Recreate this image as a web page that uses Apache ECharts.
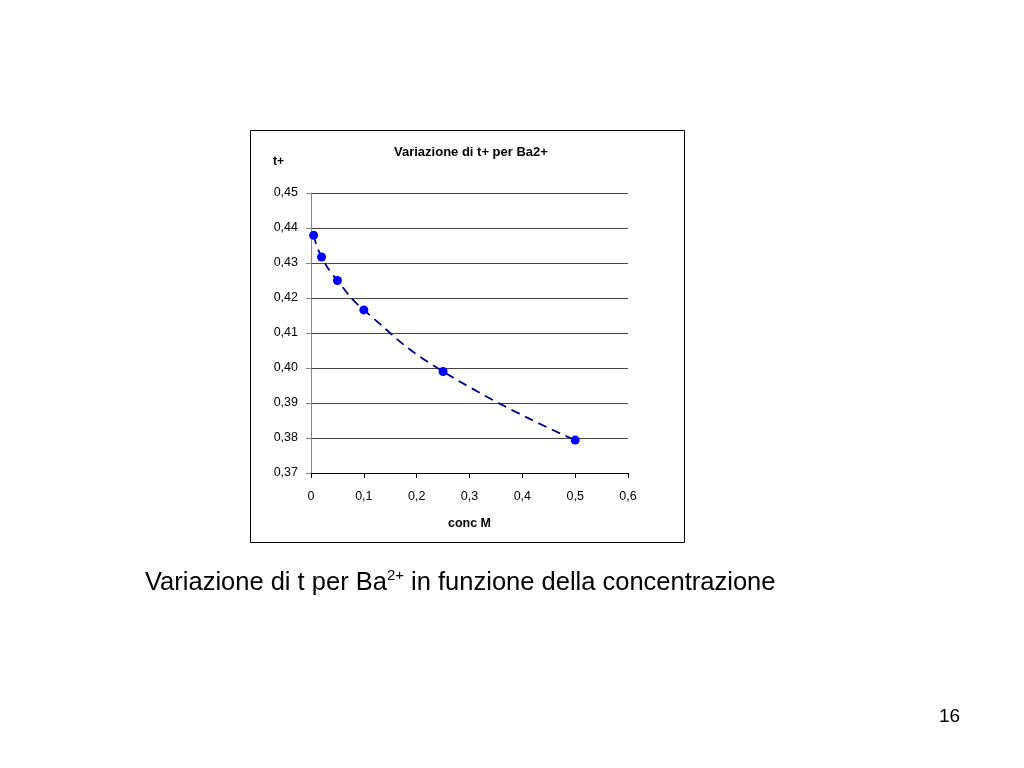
<!DOCTYPE html>
<html>
<head>
<meta charset="utf-8">
<script src="https://cdn.jsdelivr.net/npm/echarts@6/dist/echarts.min.js"></script>
<style>
html,body{margin:0;padding:0;background:#fff;}
#chart{width:1024px;height:768px;}
</style>
</head>
<body>
<div id="chart"></div>
<script>
// Data
const concM = [0.005, 0.02, 0.05, 0.1, 0.25, 0.5];
const tPlus = [0.4379, 0.4317, 0.4250, 0.4166, 0.3990, 0.3794];
const chartTitle = 'Variazione di t+ per Ba2+';
const yName = 't+';
const xName = 'conc M';
const pageNumber = '16';

const FONT = 'Liberation Sans, Arial, sans-serif';
const chart = echarts.init(document.getElementById('chart'), null, {renderer: 'canvas'});

chart.setOption({
  backgroundColor: '#ffffff',
  animation: false,
  grid: {left: 311, right: 396, top: 193, bottom: 295, containLabel: false},
  xAxis: {
    type: 'value', min: 0, max: 0.6, interval: 0.1,
    name: xName, nameLocation: 'middle', nameGap: 44,
    nameTextStyle: {fontFamily: FONT, fontSize: 12.5, fontWeight: 'bold', color: '#000'},
    axisLine: {show: true, onZero: false, lineStyle: {color: '#000', width: 1}},
    axisTick: {show: true, inside: false, length: 5, lineStyle: {color: '#000'}},
    axisLabel: {fontFamily: FONT, fontSize: 12.5, color: '#000', margin: 17,
      formatter: v => v === 0 ? '0' : v.toFixed(1).replace('.', ',')},
    splitLine: {show: false}
  },
  yAxis: {
    type: 'value', min: 0.37, max: 0.45, interval: 0.01,
    axisLine: {show: true, lineStyle: {color: '#888', width: 1}},
    axisTick: {show: true, inside: false, length: 5, lineStyle: {color: '#888'}},
    axisLabel: {fontFamily: FONT, fontSize: 12.5, color: '#000', margin: 13,
      formatter: v => v.toFixed(2).replace('.', ',')},
    splitLine: {show: true, lineStyle: {color: '#444', width: 1}}
  },
  series: [{
    type: 'line',
    data: concM.map((x, i) => [x, tPlus[i]]),
    smooth: true,
    symbol: 'circle', symbolSize: 9,
    itemStyle: {color: '#0000ff'},
    lineStyle: {color: '#000080', width: 1.8, type: [9, 6]},
    z: 3
  }],
  graphic: [
    {type: 'rect', shape: {x: 250.5, y: 130.5, width: 434, height: 412},
     style: {fill: 'none', stroke: '#000', lineWidth: 1}, z: -1},
    {type: 'text', left: 394, top: 146,
     style: {text: chartTitle, font: 'bold 13px ' + FONT, fill: '#000'}},
    {type: 'text', left: 273, top: 156,
     style: {text: yName, font: 'bold 12px ' + FONT, fill: '#000'}},
    {type: 'text', left: 145, top: 568,
     style: {
       text: '{n|Variazione di t per Ba}{s|2+}{n| in funzione della concentrazione}',
       rich: {
         n: {fontFamily: FONT, fontSize: 25.5, fill: '#000', verticalAlign: 'bottom', lineHeight: 28},
         s: {fontFamily: FONT, fontSize: 15, fill: '#000', verticalAlign: 'top', lineHeight: 28, padding: [0,0,11,0]}
       }
     }},
    {type: 'text', left: 939, top: 707,
     style: {text: pageNumber, font: '19px ' + FONT, fill: '#000'}}
  ]
});
</script>
</body>
</html>
